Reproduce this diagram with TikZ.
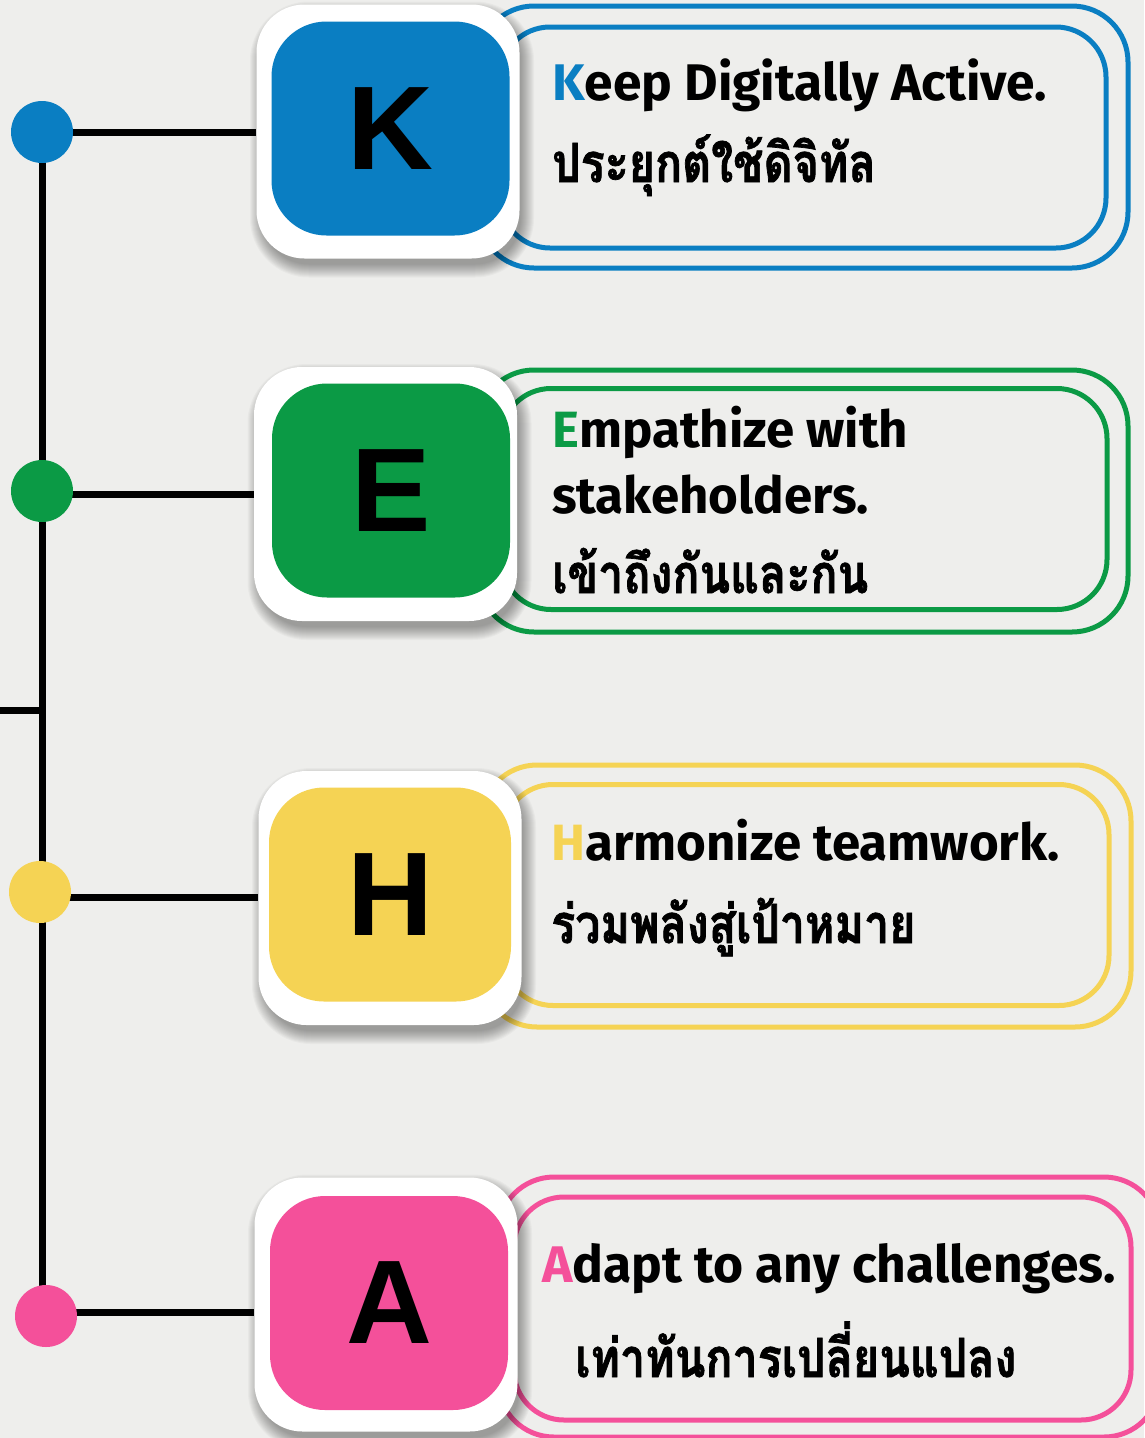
\documentclass[tikz,border=0pt]{standalone}
\usepackage{fontspec}
\setmainfont{Fira Sans}
\newfontfamily\latfont{Fira Sans}
\newfontfamily\thaifont[Script=Thai,FakeStretch=0.83,BoldFeatures={FakeBold=1.3}]{Loma}
\newfontfamily\letterfont{Liberation Sans}
\definecolor{cK}{HTML}{0A7EC2}
\definecolor{cE}{HTML}{0B9A45}
\definecolor{cH}{HTML}{F5D354}
\definecolor{cA}{HTML}{F4509A}
\definecolor{bgc}{HTML}{EEEEEC}
\pgfdeclarelayer{back}
\pgfdeclarelayer{lines}
\pgfsetlayers{back,lines,main}
\newcommand\softshadow[2]{%
  \foreach \i in {0,...,13}{%
    \pgfmathsetmacro\rr{46+\i}%
    \fill[black,opacity=0.026,rounded corners=\rr pt]
      ({#1-129-\i+4},{#2-125-\i+8}) rectangle ({#1+129+\i+4},{#2+125+\i+8});
  }%
}
\begin{document}
\begin{tikzpicture}[x=1pt,y=-1pt,
  dot/.style={circle,inner sep=0pt,minimum size=62pt,fill=#1},
  link/.style={line width=7pt,black},
  whitebox/.style={fill=white,rounded corners=48pt,minimum width=263pt,minimum height=254pt,inner sep=0pt},
  letterbox/.style={fill=#1,rounded corners=55pt,minimum width=238pt,minimum height=214pt,inner sep=0pt,
    font=\letterfont\bfseries\fontsize{119}{119}\selectfont},
  frameout/.style={draw=#1,line width=5pt,rounded corners=56pt,minimum width=650pt,minimum height=262pt,inner sep=0pt},
  framein/.style={draw=#1,line width=5pt,rounded corners=50pt,minimum width=606pt,minimum height=221pt,inner sep=0pt},
  entext/.style={anchor=base west,inner sep=0pt,font=\latfont\bfseries\fontsize{#1}{#1}\selectfont},
  thtext/.style={anchor=base west,inner sep=0pt,font=\thaifont\bfseries\fontsize{#1}{#1}\selectfont}
]
\begin{pgfonlayer}{back}
  \fill[bgc] (0,0) rectangle (1144,1438);
\end{pgfonlayer}
\useasboundingbox (0,0) rectangle (1144,1438);

% frames
\node[frameout=cK] (foK) at (803,137) {};
\node[framein=cK]  (fiK) at (803,137.5) {};
\node[frameout=cE] (foE) at (803,501) {};
\node[framein=cE]  (fiE) at (804,499) {};
\node[frameout=cH] (foH) at (806,896) {};
\node[framein=cH]  (fiH) at (806,895) {};
\node[frameout=cA,minimum width=662pt,minimum height=260pt] (foA) at (829,1307) {};
\node[framein=cA,minimum width=617pt,minimum height=223pt]  (fiA) at (822.5,1308.5) {};

% shadows, white boxes and letter boxes
\softshadow{388}{131.5}
\node[whitebox] (wK) at (388,131.5) {};
\node[letterbox=cK] (bK) at (390.5,128.5) {K};
\softshadow{385.5}{494}
\node[whitebox] (wE) at (385.5,494) {};
\node[letterbox=cE] (bE) at (391,490.5) {E};
\softshadow{390}{898}
\node[whitebox] (wH) at (390,898) {};
\node[letterbox=cH,minimum width=242pt] (bH) at (390,894.5) {H};
\softshadow{386}{1304.5}
\node[whitebox] (wA) at (386,1304.5) {};
\node[letterbox=cA] (bA) at (389,1303) {A};

% dots
\node[dot=cK] (dK) at (42,132) {};
\node[dot=cE] (dE) at (42,491) {};
\node[dot=cH] (dH) at (40,892) {};
\node[dot=cA] (dA) at (46,1316) {};
\coordinate (stub) at (0,710);

\begin{pgfonlayer}{lines}
  \draw[link] (dK.center) -- (dK.center |- dA.center);
  \draw[link] (stub) -- (stub -| dK.center);
  \draw[link] (dK.center) -- (dK.center -| wK.west);
  \draw[link] (dE.center |- 0,494) -- (wE.west |- 0,494);
  \draw[link] (dH.center |- 0,897) -- (wH.west |- 0,897);
  \draw[link] (dA.center |- 0,1312.5) -- (wA.west |- 0,1312.5);
\end{pgfonlayer}

% texts
\node[entext=51.5] (tK1) at (552,100) {\textcolor{cK}{K}eep Digitally Active.};
\node[thtext=54] (tK2) at (552,182) {ประยุกต์ใช้ดิจิทัล};
\node[entext=51] (tE1) at (552,447) {\textcolor{cE}{E}mpathize with};
\node[entext=51] (tE2) at (552,513) {stakeholders.};
\node[thtext=54] (tE3) at (552,593) {เข้าถึงกันและกัน};
\node[entext=51] (tH1) at (551,860) {\textcolor{cH}{H}armonize teamwork.};
\node[thtext=54] (tH2) at (551,943) {ร่วมพลังสู่เป้าหมาย};
\node[entext=51.5] (tA1) at (542,1282) {\textcolor{cA}{A}dapt to any challenges.};
\node[thtext=54] (tA2) at (575,1377) {เท่าทันการเปลี่ยนแปลง};
\end{tikzpicture}
\end{document}
